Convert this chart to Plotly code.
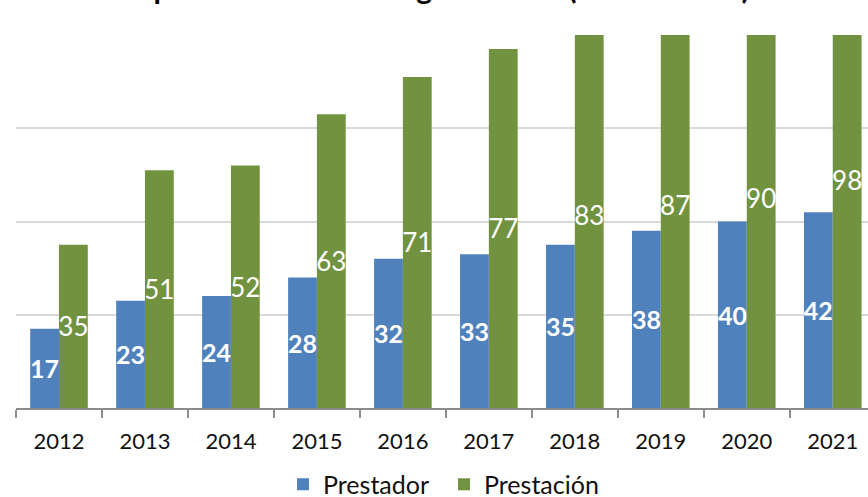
import plotly.graph_objects as go

years = ["2012", "2013", "2014", "2015", "2016", "2017", "2018", "2019", "2020", "2021"]
prestador = [17, 23, 24, 28, 32, 33, 35, 38, 40, 42]
prestacion = [35, 51, 52, 63, 71, 77, 83, 87, 90, 98]
series_names = ["Prestador", "Prestación"]
title_text = "Número de prestadores en el registro total (2012 - 2021)"

BLUE = "#4F81BD"
GREEN = "#71923F"
FONT = "Lato, 'Open Sans', sans-serif"

fig = go.Figure()
fig.add_trace(go.Bar(
    x=years, y=prestador, name=series_names[0],
    marker=dict(color=BLUE, line=dict(width=0)),
    text=[str(v) for v in prestador], textposition="inside",
    insidetextanchor="middle", textangle=0, constraintext="none",
    textfont=dict(family=FONT, size=25, color="white", weight="bold"),
))
fig.add_trace(go.Bar(
    x=years, y=prestacion, name=series_names[1],
    marker=dict(color=GREEN, line=dict(width=0)),
    text=[str(v) for v in prestacion], textposition="inside",
    insidetextanchor="middle", textangle=0, constraintext="none",
    textfont=dict(family=FONT, size=26, color="white"),
))

fig.update_layout(
    width=868, height=497,
    margin=dict(l=16, r=0, t=35, b=89, autoexpand=False),
    paper_bgcolor="white", plot_bgcolor="white",
    barmode="group", bargap=0.33, bargroupgap=0,
    font=dict(family=FONT, color="#111111"),
    showlegend=True,
    legend=dict(orientation="h", x=0.5 + 2 / 852, xanchor="center", y=-0.205, yanchor="middle",
                font=dict(size=25, color="#111111"), itemwidth=30,
                entrywidth=116, entrywidthmode="pixels",
                traceorder="normal"),
    annotations=[dict(
        text="<b>" + title_text + "</b>", xref="paper", yref="paper",
        x=(752 - 16) / 852, y=(408 - 7) / 373, xanchor="right", yanchor="bottom",
        showarrow=False, font=dict(family=FONT, size=30, color="#000000"),
    )],
)
fig.update_xaxes(
    type="category", range=[-0.5, 9.41], automargin=False,
    showline=True, linecolor="#8C8C8C", linewidth=1.5,
    ticks="outside", tickson="boundaries", ticklen=8, tickcolor="#8C8C8C", tickwidth=1.5,
    tickfont=dict(family=FONT, size=22, color="#111111"),
    ticklabelstandoff=13, showgrid=False,
)
fig.update_yaxes(
    range=[0, 80], dtick=20, showticklabels=False, showline=False, automargin=False,
    showgrid=True, gridcolor="#D9D9D9", gridwidth=1.5, zeroline=False,
)

fig.write_html("out.html", config={"displayModeBar": False},
               post_script="document.body.style.margin='0';document.body.style.overflow='hidden';")
